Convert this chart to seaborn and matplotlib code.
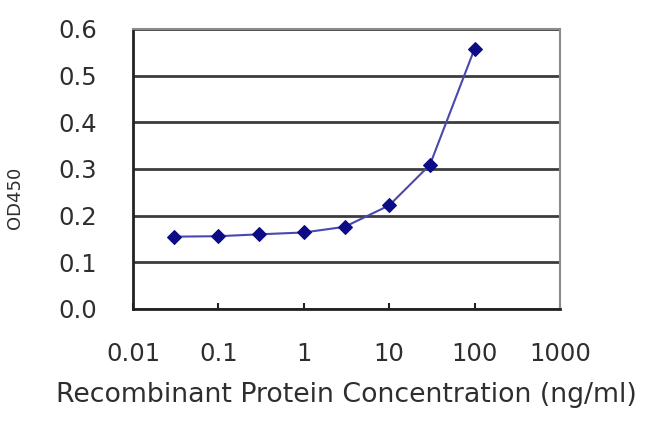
import matplotlib
matplotlib.use("Agg")
import matplotlib.pyplot as plt
import seaborn as sns
import pandas as pd

# Data
concentration = [0.03, 0.1, 0.3, 1, 3, 10, 30, 100]
od450 = [0.155, 0.156, 0.160, 0.164, 0.176, 0.222, 0.309, 0.558]
x_ticks = [0.01, 0.1, 1, 10, 100, 1000]
x_tick_labels = ["0.01", "0.1", "1", "10", "100", "1000"]
y_ticks = [0.0, 0.1, 0.2, 0.3, 0.4, 0.5, 0.6]
y_tick_labels = ["0.0", "0.1", "0.2", "0.3", "0.4", "0.5", "0.6"]

df = pd.DataFrame({"conc": concentration, "od": od450})

sns.set_style("white")
plt.rcParams["font.family"] = ["DejaVu Sans"]

text_color = "#2e2e2e"
fig = plt.figure(figsize=(6.5, 4.33), dpi=100)
ax = fig.add_axes([133 / 650, (433 - 309) / 433, 427 / 650, 280 / 433])

sns.lineplot(data=df, x="conc", y="od", ax=ax, color="#4848b0", lw=1.5,
             marker="D", markersize=7.5, markerfacecolor="#0c0c86",
             markeredgecolor="#0c0c86", zorder=5)

ax.set_xscale("log")
ax.set_xlim(0.01, 1000)
ax.set_ylim(0, 0.6)
ax.set_xticks(x_ticks)
ax.set_xticklabels(x_tick_labels)
ax.minorticks_off()
ax.set_yticks(y_ticks)
ax.set_yticklabels(y_tick_labels)

ax.yaxis.grid(True, color="#3c3c3c", lw=2)
ax.xaxis.grid(False)
ax.set_axisbelow(True)

for side in ["left", "bottom"]:
    ax.spines[side].set_color("#222222")
    ax.spines[side].set_linewidth(2)
for side in ["top", "right"]:
    ax.spines[side].set_color("#8c8c8c")
    ax.spines[side].set_linewidth(1.5)
    ax.spines[side].set_visible(True)

ax.tick_params(axis="x", direction="in", length=4, width=1.5, color="#222222",
               pad=24, labelsize=17.5, labelcolor=text_color, bottom=True)
ax.tick_params(axis="y", length=0, pad=26, labelsize=17.5, labelcolor=text_color)

ax.set_xlabel("Recombinant Protein Concentration (ng/ml)", fontsize=19.3, color=text_color)
ax.set_ylabel("OD450", fontsize=13, color=text_color)
ax.xaxis.set_label_coords(0.5, -0.26)
ax.yaxis.set_label_coords(-0.255, 0.396)

fig.savefig("out.png", dpi=100, facecolor="white")
